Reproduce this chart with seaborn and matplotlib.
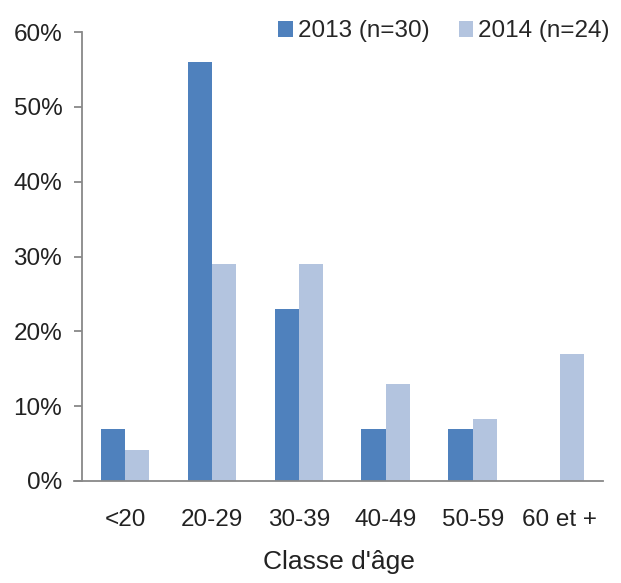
import matplotlib
matplotlib.use('Agg')
import matplotlib.pyplot as plt
import seaborn as sns
import pandas as pd
import numpy as np

# Age class distribution, 2013 vs 2014 (percent)
classes = ['<20', '20-29', '30-39', '40-49', '50-59', '60 et +']
pct_2013 = [7, 56, 23, 7, 7, 0]
pct_2014 = [4.2, 29, 29, 13, 8.3, 17]
series = ['2013 (n=30)', '2014 (n=24)']
colors = ['#4F81BD', '#B3C4DF']

df = pd.DataFrame({
    'classe': classes * 2,
    'pct': pct_2013 + pct_2014,
    'annee': [series[0]] * len(classes) + [series[1]] * len(classes),
})

sns.set_style('white')
plt.rcParams['font.family'] = ['Liberation Sans', 'DejaVu Sans']

fig = plt.figure(figsize=(6.21, 5.83), dpi=100)
ax = fig.add_axes([0.119, 0.175, 0.852, 0.77])
sns.barplot(data=df, x='classe', y='pct', hue='annee', palette=colors,
            width=0.56, saturation=1, linewidth=0, ax=ax, legend=True)

ax.set_ylim(0, 60)
ax.set_xlim(-0.59, len(classes) - 0.5)
ax.spines['left'].set_position(('data', -0.5))
ax.set_yticks(np.arange(0, 61, 10))
ax.set_yticklabels([f'{v}%' for v in range(0, 61, 10)], fontsize=17.5, color='#222222')
ax.set_xticks(range(len(classes)))
ax.set_xticklabels(classes, fontsize=17.5, color='#222222')
ax.set_xticks(np.arange(-0.5, len(classes)), minor=True)
ax.tick_params(axis='x', which='major', length=0, pad=20)
ax.tick_params(axis='x', which='minor', length=8, color='#888888', width=1.3, direction='out')
ax.tick_params(axis='y', length=6, color='#888888', width=1.3, direction='out', pad=8, left=True)
ax.set_xlabel("Classe d'âge", fontsize=19, color='#222222', labelpad=14)
ax.set_ylabel('')

for s in ['top', 'right']:
    ax.spines[s].set_visible(False)
for s in ['left', 'bottom']:
    ax.spines[s].set_color('#888888')
    ax.spines[s].set_linewidth(1.3)

handles, labels = ax.get_legend_handles_labels()
ax.get_legend().remove()
fig.legend(handles, labels, loc='upper right', bbox_to_anchor=(1.005, 0.99), ncol=2,
           frameon=False, fontsize=17.5, handlelength=0.6, handleheight=0.6,
           handletextpad=0.2, columnspacing=1.2, borderaxespad=0.2)

fig.savefig('out.png', dpi=100, facecolor='white')
